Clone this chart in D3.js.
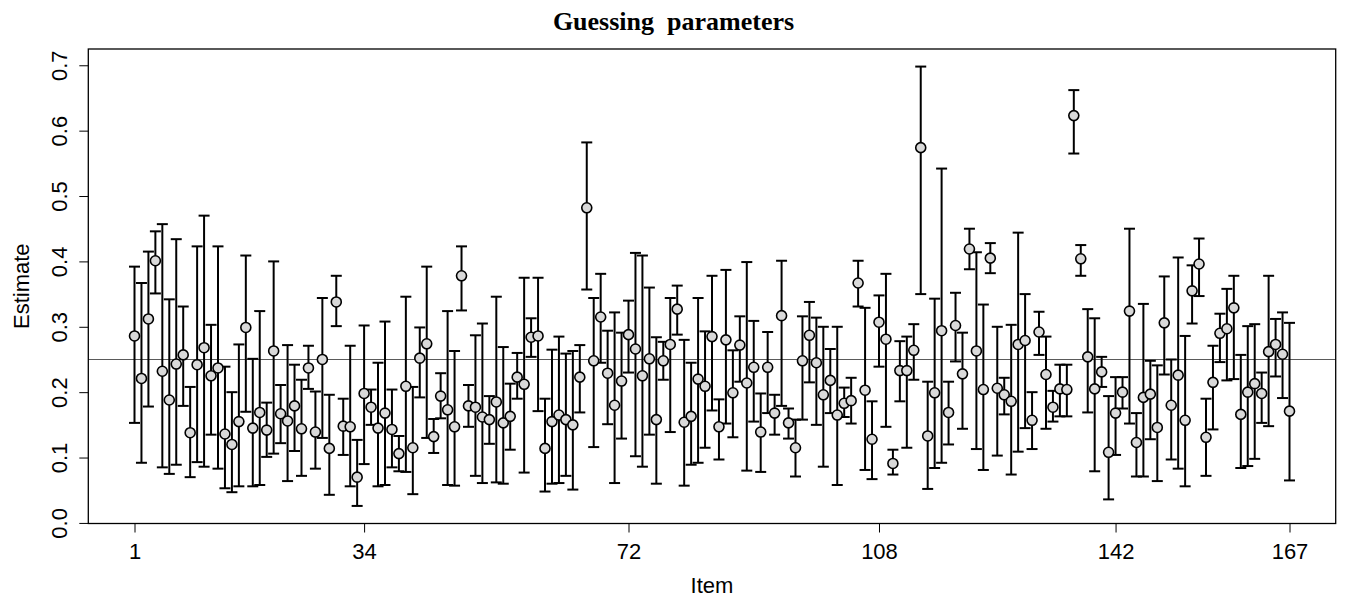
<!DOCTYPE html>
<html>
<head>
<meta charset="utf-8">
<script src="https://cdn.jsdelivr.net/npm/d3@7"></script>
<style>
  html, body { margin: 0; padding: 0; background: #fff; }
  svg { display: block; }
  text { font-family: "Liberation Sans", Arial, sans-serif; fill: #000; }
</style>
</head>
<body>
<svg id="chart" width="1349" height="600"></svg>
<script>
// Guessing parameter estimates per item with lower/upper interval bounds
const items = d3.range(1, 168);
const estimate = [
  0.286,0.221,0.312,0.401,0.232,0.188,0.243,0.257,0.138,0.242,
  0.268,0.225,0.237,0.136,0.120,0.155,0.299,0.145,0.169,0.142,
  0.263,0.167,0.156,0.179,0.144,0.237,0.139,0.250,0.114,0.338,
  0.148,0.147,0.070,0.198,0.177,0.145,0.168,0.143,0.106,0.209,
  0.115,0.252,0.274,0.132,0.194,0.173,0.147,0.378,0.179,0.177,
  0.162,0.158,0.185,0.153,0.163,0.223,0.212,0.284,0.286,0.114,
  0.155,0.165,0.158,0.150,0.223,0.482,0.248,0.315,0.229,0.180,
  0.217,0.288,0.266,0.225,0.251,0.158,0.248,0.273,0.327,0.154,
  0.163,0.220,0.209,0.285,0.147,0.280,0.199,0.272,0.214,0.238,
  0.139,0.238,0.168,0.317,0.153,0.115,0.248,0.287,0.245,0.196,
  0.218,0.165,0.183,0.187,0.367,0.203,0.128,0.307,0.281,0.091,
  0.233,0.233,0.264,0.574,0.133,0.199,0.294,0.169,0.302,0.228,
  0.419,0.263,0.204,0.405,0.206,0.196,0.186,0.273,0.279,0.157,
  0.292,0.227,0.177,0.205,0.204,0.623,0.404,0.254,0.205,0.231,
  0.108,0.168,0.200,0.324,0.123,0.192,0.197,0.146,0.306,0.180,
  0.226,0.157,0.355,0.396,0.131,0.215,0.290,0.297,0.329,0.166,
  0.200,0.213,0.198,0.262,0.273,0.258,0.171
];
const lower = [
  0.153,0.092,0.178,0.351,0.085,0.075,0.089,0.179,0.070,0.093,
  0.086,0.135,0.083,0.053,0.047,0.056,0.170,0.056,0.058,0.101,
  0.106,0.122,0.064,0.110,0.072,0.205,0.083,0.130,0.043,0.301,
  0.104,0.056,0.026,0.090,0.150,0.056,0.058,0.085,0.079,0.078,
  0.044,0.192,0.130,0.107,0.160,0.058,0.057,0.325,0.147,0.072,
  0.061,0.121,0.062,0.060,0.112,0.190,0.077,0.254,0.171,0.048,
  0.060,0.061,0.072,0.051,0.169,0.357,0.116,0.245,0.151,0.061,
  0.129,0.230,0.102,0.086,0.135,0.060,0.219,0.139,0.288,0.057,
  0.089,0.092,0.115,0.172,0.097,0.152,0.131,0.216,0.080,0.155,
  0.078,0.168,0.135,0.179,0.129,0.071,0.158,0.215,0.150,0.086,
  0.168,0.058,0.162,0.152,0.331,0.081,0.067,0.239,0.147,0.074,
  0.186,0.115,0.219,0.350,0.052,0.084,0.092,0.120,0.247,0.144,
  0.388,0.113,0.081,0.382,0.103,0.166,0.074,0.109,0.145,0.113,
  0.257,0.144,0.155,0.163,0.163,0.565,0.378,0.169,0.079,0.208,
  0.036,0.104,0.175,0.152,0.071,0.071,0.128,0.064,0.227,0.097,
  0.083,0.056,0.305,0.347,0.072,0.143,0.246,0.218,0.220,0.084,
  0.087,0.098,0.153,0.148,0.224,0.191,0.065
];
const upper = [
  0.392,0.367,0.415,0.446,0.457,0.342,0.434,0.331,0.208,0.423,
  0.470,0.303,0.423,0.239,0.200,0.273,0.409,0.251,0.324,0.184,
  0.400,0.211,0.272,0.242,0.219,0.271,0.201,0.344,0.196,0.378,
  0.190,0.271,0.127,0.302,0.204,0.245,0.308,0.204,0.133,0.346,
  0.208,0.299,0.392,0.159,0.229,0.324,0.263,0.423,0.211,0.287,
  0.305,0.194,0.346,0.269,0.213,0.260,0.375,0.313,0.375,0.190,
  0.265,0.285,0.259,0.263,0.272,0.582,0.344,0.381,0.294,0.322,
  0.291,0.340,0.413,0.409,0.360,0.284,0.277,0.344,0.363,0.280,
  0.245,0.344,0.293,0.378,0.189,0.387,0.264,0.316,0.399,0.309,
  0.198,0.292,0.196,0.401,0.175,0.158,0.316,0.338,0.314,0.300,
  0.266,0.300,0.207,0.222,0.401,0.329,0.186,0.348,0.381,0.112,
  0.278,0.285,0.304,0.698,0.216,0.343,0.542,0.216,0.352,0.291,
  0.450,0.414,0.334,0.428,0.300,0.222,0.303,0.444,0.350,0.200,
  0.323,0.285,0.202,0.242,0.242,0.662,0.425,0.327,0.313,0.254,
  0.194,0.223,0.223,0.450,0.168,0.335,0.248,0.241,0.377,0.250,
  0.406,0.286,0.394,0.435,0.190,0.271,0.320,0.358,0.378,0.257,
  0.301,0.304,0.230,0.378,0.312,0.322,0.306
];
const xTicks = [1, 34, 72, 108, 142, 167];
const yTicks = [0.0, 0.1, 0.2, 0.3, 0.4, 0.5, 0.6, 0.7];
const refLevel = 0.25;
const titleText = "Guessing  parameters";
const xTitle = "Item";
const yTitle = "Estimate";

const data = items.map((it, i) => ({ item: it, est: estimate[i], lo: lower[i], hi: upper[i] }));

// plot region
const L = 88.3, R = 1335.7, T = 49, B = 523.5;

// axis ranges padded by 4% on each side
const xMin = d3.min(items), xMax = d3.max(items);
const xPad = (xMax - xMin) * 0.04;
const yMin = d3.min(lower), yMax = d3.max(upper);
const yPad = (yMax - yMin) * 0.04;

const x = d3.scaleLinear().domain([xMin - xPad, xMax + xPad]).range([L, R]);
const y = d3.scaleLinear().domain([yMin - yPad, yMax + yPad]).range([B, T]);

const svg = d3.select("#chart");

// reference line
svg.append("line")
  .attr("x1", L).attr("x2", R)
  .attr("y1", y(refLevel)).attr("y2", y(refLevel))
  .attr("stroke", "#5a5a5a").attr("stroke-width", 1.2);

// interval bars with caps
const capHalf = 5.5;
const bars = svg.append("g").attr("stroke", "#000").attr("stroke-width", 2).attr("fill", "none");
bars.selectAll("line.v").data(data).join("line").attr("class", "v")
  .attr("x1", d => x(d.item)).attr("x2", d => x(d.item))
  .attr("y1", d => y(d.lo)).attr("y2", d => y(d.hi));
bars.selectAll("line.top").data(data).join("line").attr("class", "top")
  .attr("x1", d => x(d.item) - capHalf).attr("x2", d => x(d.item) + capHalf)
  .attr("y1", d => y(d.hi)).attr("y2", d => y(d.hi));
bars.selectAll("line.bot").data(data).join("line").attr("class", "bot")
  .attr("x1", d => x(d.item) - capHalf).attr("x2", d => x(d.item) + capHalf)
  .attr("y1", d => y(d.lo)).attr("y2", d => y(d.lo));

// point estimates
svg.append("g").selectAll("circle").data(data).join("circle")
  .attr("cx", d => x(d.item)).attr("cy", d => y(d.est))
  .attr("r", 5)
  .attr("fill", "#d9d9d9").attr("stroke", "#000").attr("stroke-width", 1.6);

// frame
svg.append("rect")
  .attr("x", L).attr("y", T).attr("width", R - L).attr("height", B - T)
  .attr("fill", "none").attr("stroke", "#000").attr("stroke-width", 1.3);

// x axis
const xAxis = d3.axisBottom(x).tickValues(xTicks).tickFormat(d3.format("d"))
  .tickSize(9).tickPadding(8);
const gx = svg.append("g").attr("transform", `translate(0,${B})`).call(xAxis);
gx.select(".domain").remove();
gx.selectAll(".tick line").attr("stroke", "#000").attr("stroke-width", 1);
gx.selectAll(".tick text")
  .attr("font-family", "Liberation Sans, Arial, sans-serif")
  .attr("font-size", 22).attr("dy", null).attr("y", 35.5);

// y axis with labels parallel to the axis
const yAxis = d3.axisLeft(y).tickValues(yTicks).tickFormat(d3.format(".1f"))
  .tickSize(9).tickPadding(0);
const gy = svg.append("g").attr("transform", `translate(${L},0)`).call(yAxis);
gy.select(".domain").remove();
gy.selectAll(".tick line").attr("stroke", "#000").attr("stroke-width", 1);
gy.selectAll(".tick text")
  .attr("font-family", "Liberation Sans, Arial, sans-serif")
  .attr("font-size", 22)
  .attr("x", null).attr("dy", null)
  .attr("text-anchor", "middle")
  .attr("transform", "translate(-21.5,0) rotate(-90)");

// titles
svg.append("text")
  .attr("x", 673.5).attr("y", 30)
  .attr("text-anchor", "middle")
  .style("font-family", "'Liberation Serif', 'Times New Roman', serif")
  .style("font-weight", "bold").style("font-size", "26px")
  .style("white-space", "pre")
  .text(titleText);

svg.append("text")
  .attr("x", (L + R) / 2).attr("y", 593)
  .attr("text-anchor", "middle")
  .style("font-size", "22px")
  .text(xTitle);

svg.append("text")
  .attr("transform", `translate(28.5,${(T + B) / 2}) rotate(-90)`)
  .attr("text-anchor", "middle")
  .style("font-size", "22px")
  .text(yTitle);
</script>
</body>
</html>
